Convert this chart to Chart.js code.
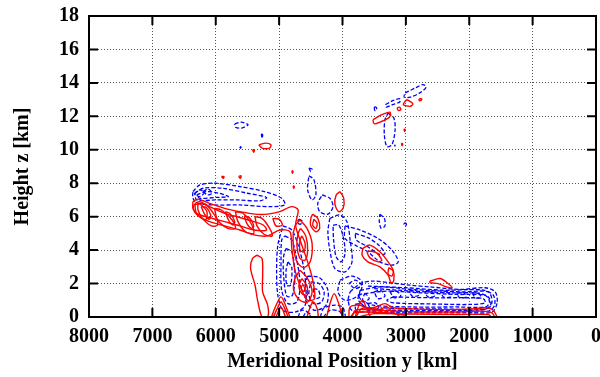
<!DOCTYPE html>
<html lang="en">
<head>
<meta charset="UTF-8">
<title>Height vs Meridional Position</title>
<script src="https://cdn.jsdelivr.net/npm/chart.js"></script>
<style>
  body { margin: 0; background: #fff; }
</style>
</head>
<body>
<canvas id="contourChart" width="600" height="377"></canvas>
<script>
const xTicks = [8000, 7000, 6000, 5000, 4000, 3000, 2000, 1000, 0];
const zTicks = [0, 2, 4, 6, 8, 10, 12, 14, 16, 18];

// each contour: list of [y (km), z (km)]
// red = solid contours, blue = dashed contours
const redTongue = [
  [[6360,6.9],[6280,7.05],[6100,6.8],[5860,6.5],[5620,6.3],[5380,6.15],[5180,6.15],[4990,6.3],[4800,6.6],[4700,6.4],[4740,5.5],[4670,4.6],[4550,3.3],[4470,2.2],[4440,1.1],[4550,1.0],[4640,1.6],[4750,2.8],[4800,4.1],[4830,5.1],[4990,5.2],[5180,4.85],[5380,4.9],[5620,5.2],[5860,5.45],[6100,5.7],[6280,6.05],[6360,6.5],[6360,6.9]],
  [[6330,6.8],[6250,6.9],[6100,6.6],[5860,6.2],[5620,5.95],[5400,5.7],[5250,5.5],[5200,5.2],[5400,5.2],[5620,5.45],[5860,5.7],[6100,5.95],[6300,6.2],[6330,6.8]],
  [[6280,6.8],[6170,6.75],[6020,6.1],[5970,5.5],[6070,5.45],[6210,5.9],[6280,6.4],[6280,6.8]],
  [[6020,6.5],[5910,6.4],[5740,5.8],[5690,5.3],[5810,5.3],[5970,5.8],[6020,6.5]],
  [[5690,6.3],[5570,6.2],[5430,5.5],[5400,5.0],[5530,5.1],[5650,5.7],[5690,6.3]],
  [[5380,6.0],[5270,5.9],[5150,5.3],[5110,4.85],[5240,4.95],[5350,5.45],[5380,6.0]],
  [[6350,6.7],[6250,6.75],[6140,6.3],[6160,5.8],[6270,6.05],[6350,6.4],[6350,6.7]],
  [[6230,6.6],[6150,6.55],[6080,6.1],[6100,5.85],[6170,6.1],[6230,6.6]],
  [[5850,6.3],[5780,6.2],[5700,5.7],[5730,5.5],[5800,5.8],[5850,6.3]],
  [[5550,6.05],[5470,5.95],[5400,5.45],[5440,5.3],[5510,5.6],[5550,6.05]],
  [[5100,5.9],[5000,5.85],[4950,5.5],[5050,5.45],[5100,5.9]]
];
const redColumn = [
  [[4670,5.8],[4560,5.3],[4480,4.4],[4510,3.3],[4620,2.95],[4730,3.4],[4780,4.6],[4750,5.45],[4670,5.8]],
  [[4660,5.3],[4580,4.85],[4550,4.0],[4590,3.4],[4670,3.5],[4720,4.3],[4700,5.0],[4660,5.3]],
  [[4640,4.85],[4590,4.4],[4610,3.9],[4670,4.0],[4670,4.6],[4640,4.85]],
  [[4670,2.8],[4550,2.3],[4480,1.5],[4550,0.9],[4670,1.0],[4770,1.6],[4750,2.3],[4670,2.8]],
  [[4640,2.3],[4560,1.85],[4560,1.3],[4640,1.4],[4690,1.85],[4640,2.3]],
  [[4620,1.95],[4590,1.6],[4630,1.55],[4650,1.8],[4620,1.95]],
  [[4040,7.5],[3980,7.1],[3990,6.5],[4060,6.3],[4120,6.75],[4100,7.3],[4040,7.5]],
  [[4470,6.15],[4390,5.9],[4360,5.3],[4420,5.1],[4500,5.45],[4500,5.9],[4470,6.15]],
  [[4450,5.85],[4400,5.6],[4420,5.3],[4470,5.5],[4450,5.85]],
  [[5350,3.7],[5270,3.5],[5260,2.5],[5260,1.5],[5180,0.7],[5180,0],[5270,0],[5340,1.0],[5380,1.9],[5450,2.9],[5420,3.5],[5350,3.7]],
  [[3680,4.1],[3570,4.3],[3410,3.9],[3280,3.3],[3200,2.8],[3190,2.2],[3230,2.0],[3280,2.5],[3410,3.0],[3600,3.3],[3690,3.7],[3680,4.1]],
  [[3600,3.95],[3470,3.85],[3380,3.4],[3440,3.3],[3570,3.55],[3610,3.85],[3600,3.95]],
  [[3270,2.95],[3200,2.75],[3220,2.45],[3280,2.55],[3270,2.95]],
  [[2620,2.15],[2460,2.3],[2350,2.05],[2270,1.75],[2360,1.8],[2490,2.0],[2620,2.05],[2620,2.15]]
];
const redGround = [
  [[5120,0],[5060,0.6],[4970,1.2],[4900,0.7],[4830,0]],
  [[5090,0],[5030,0.5],[4970,0.9],[4910,0.5],[4860,0]],
  [[5050,0],[4970,0.6],[4900,0]],
  [[4560,0],[4510,0.6],[4460,0.9],[4400,0.5],[4380,0]],
  [[4250,0],[4190,0.9],[4130,1.4],[4060,0.8],[4000,0]],
  [[3800,0],[3740,0.7],[3680,1.0],[3620,0.5],[3560,0]],
  [[3900,0],[3880,0.6],[3720,0.7],[3600,0.5],[3480,0.6],[3330,0.8],[3200,0.55],[3000,0.5],[2600,0.45],[2200,0.45],[1900,0.5],[1720,0.55],[1620,0.4],[1560,0]],
  [[3850,0],[3800,0.4],[3650,0.45],[3400,0.4],[3200,0.35],[2800,0.3],[2200,0.3],[1800,0.35],[1640,0.25],[1600,0]],
  [[3750,0],[3500,0.2],[3000,0.18],[2200,0.15],[1700,0.15],[1650,0]],
  [[3870,0],[3820,0.25],[3600,0.3],[3300,0.25],[3000,0.1]],
  [[3780,0.05],[3700,0.5],[3560,0.55],[3420,0.45],[3300,0.6],[3220,0.35],[3100,0.05]]
];
const redUpper = [
  [[3520,11.8],[3380,12.1],[3250,12.25],[3260,11.95],[3410,11.65],[3500,11.55],[3520,11.8]],
  [[2980,13.0],[2890,12.75],[2930,12.6],[3040,12.7],[3010,12.9],[2980,13.0]],
  [[3140,12.5],[3100,12.55],[3080,12.4],[3120,12.35],[3140,12.5]],
  [[2790,13.05],[2750,13.05],[2760,12.95],[2790,12.95],[2790,13.05]],
  [[3030,11.25],[3010,11.2],[3020,11.1],[3030,11.25]],
  [[3070,10.4],[3050,10.35],[3060,10.25],[3070,10.4]],
  [[5320,10.3],[5210,10.4],[5130,10.3],[5150,10.1],[5270,10.1],[5320,10.3]],
  [[5420,10.0],[5390,10.0],[5400,9.85],[5420,10.0]],
  [[5910,8.4],[5870,8.4],[5880,8.3],[5910,8.4]],
  [[5640,8.4],[5600,8.45],[5610,8.3],[5640,8.4]],
  [[4800,8.75],[4780,8.7],[4790,8.6],[4800,8.75]],
  [[4780,7.85],[4760,7.8],[4770,7.7],[4780,7.85]]
];

const blueTongue = [
  [[6360,7.5],[6250,7.9],[6020,8.0],[5620,7.8],[5230,7.5],[4960,7.1],[4910,6.7],[5150,6.6],[5620,6.7],[6020,6.7],[6280,6.8],[6360,7.1],[6360,7.5]],
  [[6330,7.4],[6200,7.7],[5900,7.7],[5500,7.4],[5200,7.15],[5300,6.95],[5650,7.0],[6000,7.0],[6300,7.0],[6330,7.4]],
  [[6300,7.3],[6150,7.5],[5950,7.4],[5800,7.2],[6000,7.15],[6250,7.1],[6300,7.3]],
  [[6340,7.35],[6260,7.6],[6180,7.45],[6250,7.2],[6340,7.35]],
  [[6200,7.5],[6120,7.65],[6060,7.4],[6130,7.3],[6200,7.5]]
];
const blueColumn = [
  [[4940,5.45],[4800,5.2],[4700,4.3],[4620,3.1],[4580,1.9],[4590,0.7],[4740,0.3],[4940,0.4],[5020,1.3],[5040,2.8],[5020,4.3],[4940,5.45]],
  [[4910,4.85],[4800,4.6],[4720,3.4],[4670,1.9],[4720,0.9],[4860,0.8],[4960,1.6],[4970,3.3],[4960,4.6],[4910,4.85]],
  [[4890,4.1],[4800,3.9],[4750,2.5],[4790,1.3],[4880,1.25],[4930,2.5],[4930,3.6],[4890,4.1]],
  [[4860,3.3],[4800,2.95],[4820,1.9],[4880,1.9],[4890,2.8],[4860,3.3]],
  [[4550,2.45],[4360,2.35],[4230,1.6],[4260,0.7],[4440,0.4],[4580,1.0],[4590,1.9],[4550,2.45]],
  [[4500,2.1],[4370,2.0],[4290,1.5],[4330,0.9],[4450,0.8],[4530,1.3],[4500,2.1]],
  [[4460,1.7],[4380,1.6],[4360,1.2],[4440,1.1],[4460,1.7]],
  [[4350,0],[4300,0.5],[4150,0.7],[4000,0.6],[3950,0]],
  [[4300,0],[4200,0.4],[4050,0.35],[4000,0]],
  [[4700,0],[4650,0.4],[4550,0.3],[4500,0]],
  [[4620,0],[4580,0.25],[4520,0.2],[4480,0]],
  [[4320,7.3],[4200,7.1],[4150,6.6],[4230,6.15],[4360,6.3],[4390,6.8],[4320,7.3]],
  [[4530,8.45],[4450,8.2],[4420,7.3],[4480,7.0],[4550,7.6],[4530,8.45]],
  [[4690,5.85],[4640,5.75],[4660,5.55],[4710,5.65],[4690,5.85]]
];
const blueMid = [
  [[4200,5.9],[4040,6.1],[3930,5.7],[3880,4.6],[3850,3.3],[3960,2.7],[4120,2.9],[4200,4.0],[4230,5.1],[4200,5.9]],
  [[4150,5.5],[4060,5.5],[3990,4.8],[3960,3.8],[4020,3.3],[4100,3.6],[4140,4.6],[4150,5.5]],
  [[3960,5.45],[3720,5.2],[3440,4.7],[3220,4.0],[3120,3.3],[3220,3.1],[3410,3.3],[3600,3.9],[3800,4.3],[3960,4.7],[3960,5.45]],
  [[3800,5.0],[3600,4.75],[3430,4.3],[3330,3.8],[3420,3.75],[3600,4.2],[3780,4.6],[3800,5.0]],
  [[3410,6.15],[3340,5.9],[3330,5.45],[3390,5.3],[3420,5.75],[3410,6.15]],
  [[3010,5.65],[2990,5.55],[3010,5.45],[3030,5.55],[3010,5.65]],
  [[4040,2.2],[3850,2.45],[3690,2.1],[3750,1.3],[3960,1.0],[4070,1.5],[4040,2.2]]
];
const blueGround = [
  [[3880,1.5],[3720,2.0],[3530,2.15],[3250,2.05],[2930,1.9],[2620,1.8],[2140,1.65],[1750,1.75],[1590,1.5],[1560,0.85],[1640,0.3],[1980,0.25],[2620,0.25],[3090,0.25],[3570,0.3],[3850,0.4],[3910,1.0],[3880,1.5]],
  [[3720,1.6],[3410,1.8],[2930,1.65],[2140,1.5],[1700,1.5],[1640,0.9],[1710,0.5],[2140,0.4],[2930,0.4],[3570,0.5],[3750,1.0],[3720,1.6]],
  [[3650,1.4],[3300,1.55],[2800,1.45],[2200,1.35],[1750,1.3],[1680,0.9],[1740,0.6],[2200,0.6],[2900,0.6],[3500,0.7],[3680,1.0],[3650,1.4]],
  [[3200,1.2],[2600,1.15],[2000,1.15],[1780,1.1],[1750,0.85],[2000,0.75],[2600,0.78],[3200,0.85],[3300,1.0],[3200,1.2]],
  [[3600,1.85],[3000,1.75],[2400,1.6],[1800,1.62],[1620,1.3],[1600,0.7],[1700,0.35],[2400,0.32],[3000,0.32],[3600,0.38]],
  [[3500,1.7],[2900,1.55],[2300,1.45],[1850,1.42],[1700,1.2],[1660,0.75],[1760,0.45],[2400,0.48],[3000,0.5],[3400,0.55]],
  [[3750,1.3],[3650,1.4],[3580,1.1],[3680,0.9],[3750,1.3]],
  [[3500,1.5],[3400,1.6],[3330,1.25],[3440,1.1],[3500,1.5]],
  [[3250,1.5],[3150,1.55],[3080,1.25],[3180,1.15],[3250,1.5]],
  [[3600,0.8],[3480,0.85],[3430,0.55],[3550,0.5],[3600,0.8]],
  [[3800,0.75],[3700,0.8],[3680,0.5],[3790,0.45],[3800,0.75]],
  [[2950,1.55],[2850,1.6],[2800,1.3],[2900,1.25],[2950,1.55]],
  [[2700,1.5],[2600,1.55],[2550,1.25],[2650,1.2],[2700,1.5]],
  [[2450,1.45],[2350,1.5],[2300,1.2],[2400,1.18],[2450,1.45]],
  [[2200,1.42],[2100,1.48],[2050,1.2],[2150,1.15],[2200,1.42]],
  [[1950,1.42],[1860,1.45],[1820,1.2],[1900,1.15],[1950,1.42]],
  [[3900,2.0],[3800,2.2],[3700,1.9],[3800,1.7],[3900,2.0]]
];
const blueUpper = [
  [[3280,12.2],[3190,11.9],[3170,11.2],[3220,10.3],[3300,10.2],[3340,10.9],[3330,11.8],[3280,12.2]],
  [[3010,13.4],[2850,13.7],[2730,13.9],[2680,13.75],[2780,13.4],[2930,13.15],[3030,13.15],[3010,13.4]],
  [[3320,12.7],[3200,12.95],[3090,13.05],[3100,12.85],[3210,12.7],[3310,12.55],[3320,12.7]],
  [[3500,12.55],[3470,12.55],[3460,12.4],[3490,12.35],[3500,12.55]],
  [[5700,11.55],[5600,11.65],[5490,11.5],[5590,11.3],[5690,11.35],[5700,11.55]],
  [[5280,10.95],[5260,10.9],[5270,10.7],[5280,10.95]],
  [[4530,8.9],[4480,8.85],[4500,8.7],[4530,8.9]],
  [[5620,10.2],[5600,10.15],[5610,10.1],[5620,10.2]],
  [[3180,10.3],[3170,10.25],[3180,10.2]]
];

function buildDatasets(groups, color, dash, width) {
  const out = [];
  groups.forEach(group => {
    group.forEach(line => {
      out.push({
        data: line.map(p => ({ x: p[0], y: p[1] })),
        borderColor: color,
        borderDash: dash,
        borderWidth: width,
        showLine: true,
        tension: 0.3,
        pointRadius: 0,
        fill: false
      });
    });
  });
  return out;
}

const datasets = [].concat(
  buildDatasets([redTongue, redColumn, redGround, redUpper], '#ff0000', [], 1.4),
  buildDatasets([blueTongue, blueColumn, blueMid, blueGround, blueUpper], '#0000ff', [4, 2], 1.3)
);

// gnuplot style frame with inward ticks
const framePlugin = {
  id: 'frame',
  afterDatasetsDraw(chart) {
    const ctx = chart.ctx;
    const a = chart.chartArea;
    const sx = chart.scales.x, sy = chart.scales.y;
    ctx.save();
    ctx.strokeStyle = '#000';
    ctx.lineWidth = 2;
    ctx.beginPath();
    xTicks.forEach(v => {
      const px = sx.getPixelForValue(v);
      ctx.moveTo(px, a.bottom); ctx.lineTo(px, a.bottom - 9);
      ctx.moveTo(px, a.top); ctx.lineTo(px, a.top + 9);
    });
    zTicks.forEach(v => {
      const py = sy.getPixelForValue(v);
      ctx.moveTo(a.left, py); ctx.lineTo(a.left + 9, py);
      ctx.moveTo(a.right, py); ctx.lineTo(a.right - 9, py);
    });
    ctx.stroke();
    ctx.strokeRect(a.left, a.top, a.right - a.left, a.bottom - a.top);
    ctx.restore();
  }
};

const tickFont = { family: "'Liberation Serif', 'DejaVu Serif', serif", size: 20, weight: 'bold' };

new Chart(document.getElementById('contourChart').getContext('2d'), {
  type: 'scatter',
  data: { datasets: datasets },
  options: {
    responsive: false,
    animation: false,
    layout: { padding: { top: 16, right: 4, left: 0, bottom: 0 } },
    plugins: { legend: { display: false }, tooltip: { enabled: false } },
    scales: {
      x: {
        type: 'linear',
        reverse: true,
        min: 0,
        max: 8000,
        afterFit: s => { s.height = 60; s.paddingLeft = 0; s.paddingRight = 0; },
        ticks: { stepSize: 1000, color: '#000', font: tickFont, padding: 8, maxRotation: 0, callback: v => String(v) },
        grid: { color: '#555', drawTicks: false },
        border: { display: false, dash: [1, 2] },
        title: { display: true, text: 'Meridional Position y [km]', color: '#000', font: tickFont, padding: { top: 0, bottom: 3 } }
      },
      y: {
        min: 0,
        max: 18,
        afterFit: s => { s.width = 89; s.paddingTop = 0; s.paddingBottom = 0; },
        ticks: { stepSize: 2, color: '#000', font: tickFont, padding: 10, callback: v => String(v) },
        grid: { color: '#555', drawTicks: false },
        border: { display: false, dash: [1, 2] },
        title: { display: true, text: 'Height z [km]', color: '#000', font: tickFont, padding: { top: 11, bottom: 0 } }
      }
    }
  },
  plugins: [framePlugin]
});
</script>
</body>
</html>
